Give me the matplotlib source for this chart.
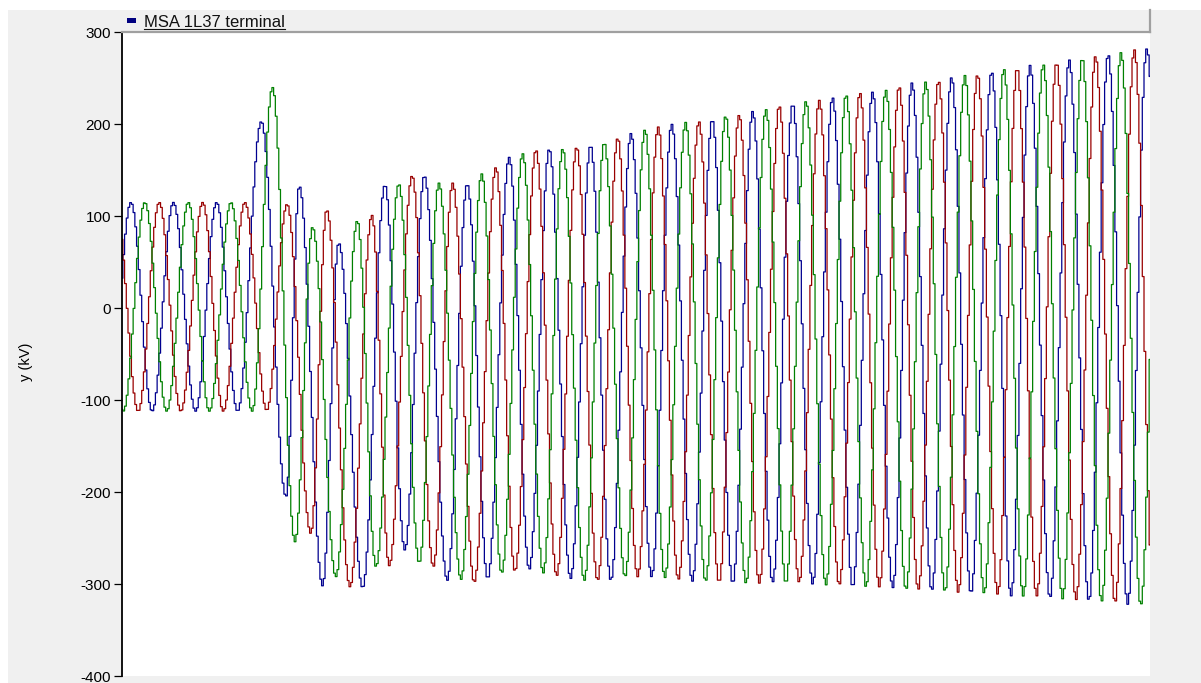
import numpy as np
import matplotlib
matplotlib.use("Agg")
import matplotlib.pyplot as plt
from matplotlib.patches import Rectangle
from matplotlib.lines import Line2D

# ---------------- data (time in ms, voltage in kV) ----------------
blue_peak_t = [4.2, 24.0, 44.2, 65.1, 82.8, 101.2, 122.8, 141.2, 161.2, 180.8, 199.5, 218.8,
               237.7, 256.7, 275.6, 294.5, 313.2, 331.8, 350.5, 368.9, 387.4, 406.1, 424.0,
               442.3, 460.5, 478.5]
blue_peak_v = [115, 115, 115, 203, 133, 71, 134, 144, 135, 164, 173, 177,
               190, 200, 205, 214, 222, 229, 235, 245, 251, 257, 264,
               270, 276, 282]
blue_trough_t = [-6.0, 14.1, 34.4, 54.0, 76.6, 93.7, 112.4, 132.1, 151.9, 170.8, 190.2, 209.5,
                 228.3, 247.3, 266.3, 285.2, 303.8, 322.5, 341.2, 359.9, 378.1, 396.4,
                 415.1, 433.3, 451.5, 469.6, 489.0]
blue_trough_v = [-112, -112, -112, -112, -205, -302, -304, -263, -296, -294, -284, -294,
                 -296, -292, -297, -299, -298, -300, -303, -304, -307, -310,
                 -313, -315, -318, -322, -324]

green_peak_t = [-9.6, 10.7, 31.0, 50.9, 70.3, 89.0, 109.9, 129.3, 148.0, 168.0, 187.1, 205.8,
                225.2, 244.2, 263.2, 281.9, 300.7, 319.4, 338.1, 356.7, 375.3, 393.6,
                411.8, 430.2, 448.4, 466.5, 485.0]
green_peak_v = [115, 115, 115, 115, 240, 88, 95, 135, 136, 146, 168, 173,
                180, 194, 202, 209, 216, 225, 232, 237, 246, 253,
                260, 265, 272, 278, 283]
green_trough_t = [0.6, 20.9, 40.8, 60.8, 80.8, 99.9, 118.6, 138.8, 158.3, 177.3, 196.7, 215.9,
                  234.9, 253.5, 272.5, 291.4, 310.0, 328.7, 347.4, 366.1, 384.3, 402.6,
                  420.8, 439.2, 457.4, 475.7]
green_trough_v = [-112, -112, -112, -112, -254, -292, -281, -277, -295, -288, -288, -296,
                  -292, -293, -297, -299, -299, -301, -303, -306, -308, -310,
                  -313, -316, -319, -323]

red_peak_t = [-2.9, 17.4, 37.7, 57.4, 77.1, 95.6, 116.7, 135.5, 154.4, 174.6, 193.3, 212.3,
              231.5, 250.4, 269.4, 288.2, 306.9, 325.6, 344.6, 362.9, 381.3, 399.5,
              418.0, 436.4, 454.6, 472.7]
red_peak_v = [115, 115, 115, 115, 113, 107, 101, 144, 136, 153, 172, 175,
              185, 197, 203, 210, 220, 226, 234, 241, 247, 254,
              261, 267, 274, 281]
red_trough_t = [7.6, 27.5, 47.3, 67.6, 88.2, 106.5, 124.8, 145.4, 164.5, 183.5, 203.0, 222.1,
                240.8, 259.8, 278.8, 297.6, 316.2, 334.9, 353.6, 371.8, 390.5, 408.9,
                427.1, 445.5, 463.7, 482.0]
red_trough_v = [-112, -112, -112, -111, -245, -303, -280, -281, -298, -286, -291, -296,
                -292, -295, -298, -299, -298, -301, -303, -306, -309, -311,
                -313, -317, -320, -324]

legend_label = "MSA 1L37 terminal"
y_label = "y (kV)"
y_ticks = [-400, -300, -200, -100, 0, 100, 200, 300]

# ---------------- waveform assembly ----------------
def waveform(pt, pv, tt, tv, t):
    et = np.array(pt + tt, dtype=float)
    ev = np.array(pv + tv, dtype=float)
    order = np.argsort(et)
    et, ev = et[order], ev[order]
    idx = np.clip(np.searchsorted(et, t, side="right") - 1, 0, len(et) - 2)
    t0, t1 = et[idx], et[idx + 1]
    v0, v1 = ev[idx], ev[idx + 1]
    frac = np.clip((t - t0) / (t1 - t0), 0, 1)
    return v0 + (v1 - v0) * (1 - np.cos(np.pi * frac)) / 2

t = np.arange(0.0, 480.01, 0.8)

W, H = 1201, 683
fig = plt.figure(figsize=(W / 100, H / 100), dpi=100)
fig.patch.set_facecolor("white")

# grey panel (behind everything)
fig.patches.append(Rectangle((8 / W, 0), 1 - 8 / W, 1 - 10 / H, transform=fig.transFigure,
                             facecolor="#f0f0f0", edgecolor="none", zorder=-10))

ax_l, ax_r, ax_t, ax_b = 122, 1150, 32.3, 676.0
ax = fig.add_axes([ax_l / W, 1 - ax_b / H, (ax_r - ax_l) / W, (ax_b - ax_t) / H])
ax.set_zorder(1)
ax.set_facecolor("white")

for (pt, pv, tt, tv, c) in [
    (blue_peak_t, blue_peak_v, blue_trough_t, blue_trough_v, "#00008f"),
    (red_peak_t, red_peak_v, red_trough_t, red_trough_v, "#990000"),
    (green_peak_t, green_peak_v, green_trough_t, green_trough_v, "#008000"),
]:
    y = waveform(pt, pv, tt, tv, t)
    ax.plot(t, y, color=c, lw=0.9, drawstyle="steps-mid")

ax.set_xlim(0, 480)
ax.set_ylim(-400, 300)
ax.set_yticks(y_ticks)
ax.set_yticklabels([str(v) for v in y_ticks], fontsize=11, family="Liberation Sans")
ax.set_xticks([])
for s in ["top", "right", "bottom"]:
    ax.spines[s].set_visible(False)
ax.spines["left"].set_linewidth(1.3)
ax.spines["left"].set_color("black")
ax.tick_params(axis="y", direction="out", length=6, width=0.9, pad=2, colors="black")
ax.set_ylabel(y_label, fontsize=10.5, family="Liberation Sans")
ax.yaxis.set_label_coords(-89 / (ax_r - ax_l), (ax_b - 362) / (ax_b - ax_t))

# legend strip
fig.patches.append(Rectangle((ax_l / W, 1 - 32 / H), (ax_r - ax_l) / W, 22 / H,
                             transform=fig.transFigure, facecolor="#f0f0f0",
                             edgecolor="none", zorder=3))
fig.add_artist(Line2D([ax_l / W, ax_r / W], [1 - 31.5 / H, 1 - 31.5 / H],
                      transform=fig.transFigure, color="#a0a0a0", lw=1.6, zorder=4))
fig.add_artist(Line2D([ax_r / W, ax_r / W], [1 - 31.5 / H, 1 - 10 / H],
                      transform=fig.transFigure, color="#a0a0a0", lw=1.6, zorder=4))
fig.patches.append(Rectangle((127 / W, 1 - 23 / H), 9 / W, 5.5 / H, transform=fig.transFigure,
                             facecolor="#000080", edgecolor="none", zorder=5))
txt = fig.text(144 / W, 1 - 27 / H, legend_label, fontsize=12, family="Liberation Sans",
               color="#111111", va="baseline", ha="left", zorder=5)
fig.canvas.draw()
bb = txt.get_window_extent()
fig.add_artist(Line2D([bb.x0 / W, bb.x1 / W], [1 - 29 / H, 1 - 29 / H],
                      transform=fig.transFigure, color="#111111", lw=0.8, zorder=5))

fig.savefig("out.png", dpi=100, facecolor="white")
